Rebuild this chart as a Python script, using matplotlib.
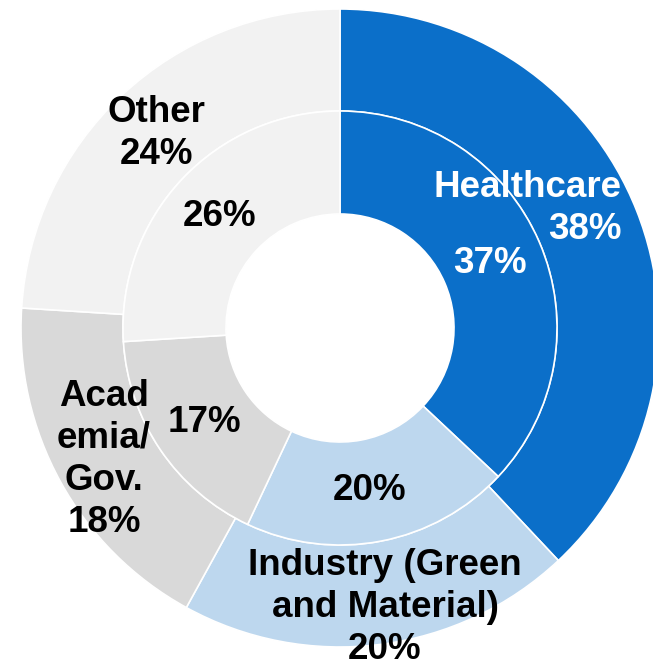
import matplotlib
matplotlib.use("Agg")
import matplotlib.pyplot as plt

# Sector shares: outer ring and inner ring (percent)
categories = ["Healthcare", "Industry (Green\nand Material)", "Acad\nemia/\nGov.", "Other"]
outer_values = [38, 20, 18, 24]
inner_values = [37, 20, 17, 26]
colors = ["#0B6FC9", "#BDD7EE", "#D9D9D9", "#F2F2F2"]
text_colors = ["white", "black", "black", "black"]

W, H, DPI = 653, 665, 100
CX, CY = 340, 328          # pie centre in pixel space (from top-left)
R_OUT, R_MID, R_IN = 319, 217, 114
FS = 26.5
STEP = 42                  # baseline-to-baseline distance in pixels

fig = plt.figure(figsize=(W / DPI, H / DPI), dpi=DPI)
ax = fig.add_axes([0, 0, 1, 1])

wp = dict(edgecolor="white", linewidth=1.2)
ax.pie(outer_values, radius=R_OUT, colors=colors, startangle=90, counterclock=False,
       wedgeprops=dict(width=R_OUT - R_MID, **wp))
ax.pie(inner_values, radius=R_MID, colors=colors, startangle=90, counterclock=False,
       wedgeprops=dict(width=R_MID - R_IN, **wp))

ax.set_xlim(-CX, W - CX)
ax.set_ylim(-(H - CY), CY)
ax.set_aspect("equal")
ax.axis("off")


def put_lines(lines, x, y0, color, ha="center"):
    """Draw lines of text; (x, y0) is the first baseline in pixel space."""
    for i, line in enumerate(lines):
        ax.text(x - CX, CY - (y0 + i * STEP), line, ha=ha, va="baseline",
                fontsize=FS, fontweight="bold", color=color,
                family=["Liberation Sans", "DejaVu Sans"])


# Outer ring labels: (x, first baseline, horizontal alignment)
outer_pos = [(622, 197, "right"), (385, 575, "center"), (104, 406, "center"), (156, 122, "center")]
# Inner ring labels: (x, baseline)
inner_pos = [(490, 273), (370, 500), (204, 432), (220, 226)]

for name, v, c, (x, y, ha) in zip(categories, outer_values, text_colors, outer_pos):
    put_lines(name.split("\n") + [f"{v}%"], x, y, c, ha)

for v, c, (x, y) in zip(inner_values, text_colors, inner_pos):
    put_lines([f"{v}%"], x, y, c)

fig.savefig("out.png", dpi=DPI)
